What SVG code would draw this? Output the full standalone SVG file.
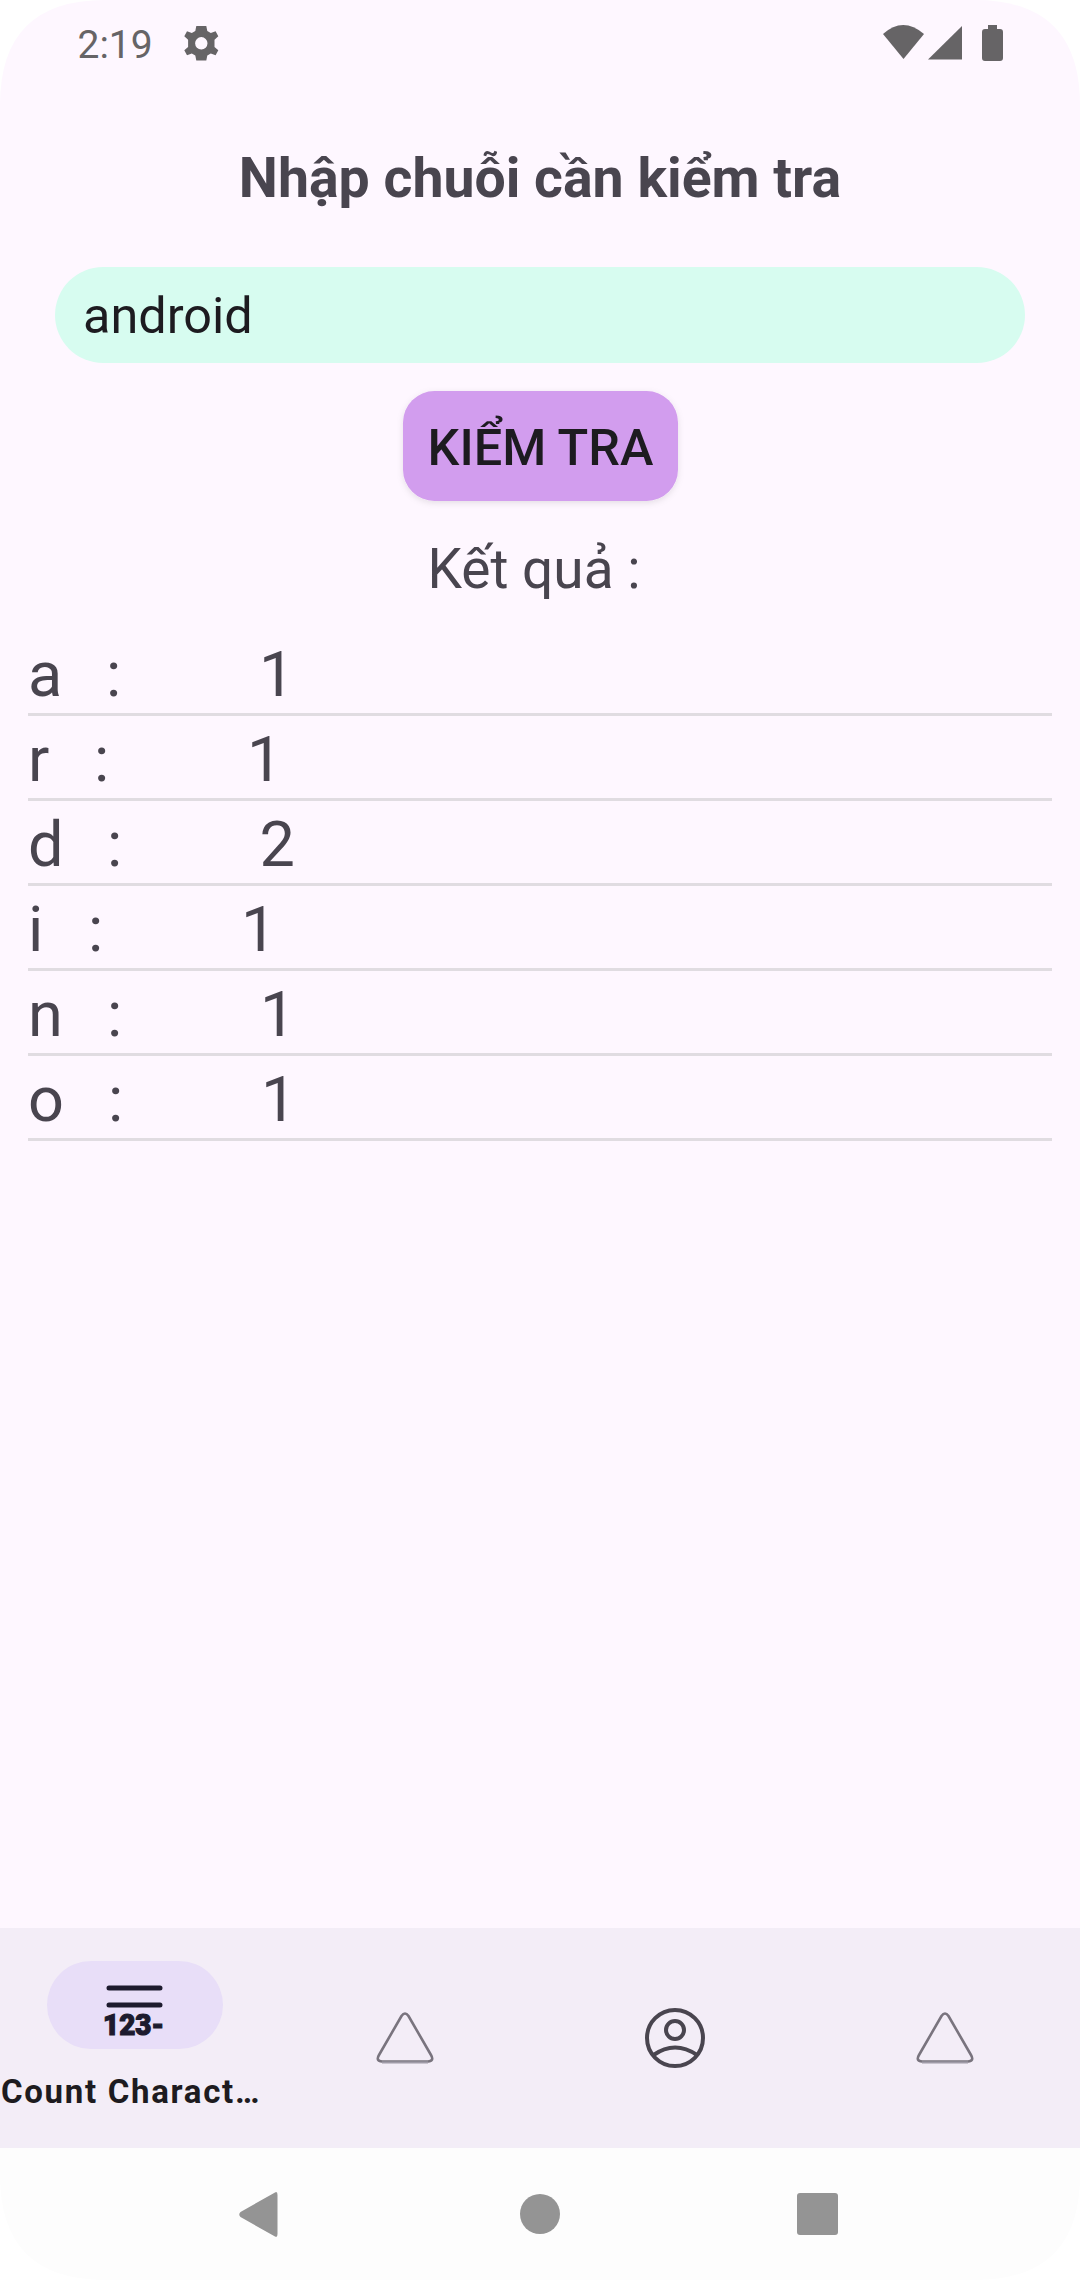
<svg xmlns="http://www.w3.org/2000/svg" width="1080" height="2280" viewBox="0 0 1080 2280">
<defs>
<style>
text{font-family:Roboto,"Noto Sans",sans-serif}
.row{font-size:63px;fill:#49454f}
.div{stroke:#e0dce1;stroke-width:3}
.tri{fill:none;stroke:#79747e;stroke-width:2.6}
.tribase{fill:none;stroke:#a09ba8;stroke-width:2}
.sys{fill:#666466}
.nav{fill:#949494}
</style>
<filter id="sh" x="-10%" y="-10%" width="120%" height="130%"><feDropShadow dx="0" dy="2" stdDeviation="3" flood-color="#000" flood-opacity="0.1"/></filter>
</defs>
<rect width="1080" height="2280" fill="#ffffff"/>
<g id="screen">
<path d="M105 0H975Q1080 0 1080 105V2148H0V105Q0 0 105 0Z" fill="#fef7ff"/>
<path d="M0 2148H1080V2175Q1080 2280 975 2280H105Q0 2280 0 2175Z" fill="#fdfdfd"/>
<rect x="0" y="1928" width="1080" height="220" fill="#f3edf7"/>
</g>
<g id="status-bar">
<text x="77.5" y="58" font-size="39" fill="#666466">2:19</text>
<g id="gear" transform="translate(201.3 43.3)">
<path class="sys" fill-rule="evenodd" d="M-5-17.3H5L6-12.3 9.5-10.3 14.3-12 17-7 13.2-3.6V3.6L17 7 14.3 12 9.5 10.3 6 12.3 5 17.3H-5L-6 12.3-9.5 10.3-14.3 12-17 7-13.2 3.6V-3.6L-17-7-14.3-12-9.5-10.3-6-12.3ZM0-6.2A6.2 6.2 0 1 0 0 6.2 6.2 6.2 0 1 0 0-6.2Z"/>
</g>
<path id="wifi" class="sys" d="M883 34Q903 16 924 34L903.5 59Z"/>
<path id="signal" class="sys" d="M928 59.5L962 26V59.5Z"/>
<path id="battery" class="sys" d="M988 25H997V29H1000Q1003 29 1003 32V58Q1003 61 1000 61H985Q982 61 982 58V32Q982 29 985 29H988Z"/>
</g>
<g id="title"><text x="540" y="196.5" text-anchor="middle" font-size="55.4" font-weight="700" fill="#49454f">Nhập chuỗi cần kiểm tra</text></g>
<g id="input">
<rect x="55" y="267" width="970" height="96" rx="48" fill="#d7fcf0"/>
<text x="83" y="333" font-size="50.4" fill="#1d1b20">android</text>
</g>
<g id="button">
<rect x="403" y="391" width="275" height="110" rx="31.5" fill="#d29dee" filter="url(#sh)"/>
<text x="540.5" y="465" text-anchor="middle" font-size="50.4" font-weight="500" fill="#1d1b20">KIỂM TRA</text>
</g>
<g id="result-label"><text x="427.5" y="588" font-size="55" fill="#49454f">Kết quả :</text></g>
<g id="rows">
<g id="row-a"><text class="row" x="28" y="696">a</text><text class="row" x="106" y="696">:</text><text class="row" x="259" y="696">1</text><line class="div" x1="28" x2="1052" y1="714.5" y2="714.5"/></g>
<g id="row-r"><text class="row" x="28" y="781">r</text><text class="row" x="94" y="781">:</text><text class="row" x="247" y="781">1</text><line class="div" x1="28" x2="1052" y1="799.5" y2="799.5"/></g>
<g id="row-d"><text class="row" x="28" y="866">d</text><text class="row" x="107" y="866">:</text><text class="row" x="259.5" y="866">2</text><line class="div" x1="28" x2="1052" y1="884.5" y2="884.5"/></g>
<g id="row-i"><text class="row" x="28" y="951">i</text><text class="row" x="88" y="951">:</text><text class="row" x="241" y="951">1</text><line class="div" x1="28" x2="1052" y1="969.5" y2="969.5"/></g>
<g id="row-n"><text class="row" x="28" y="1036">n</text><text class="row" x="107" y="1036">:</text><text class="row" x="260" y="1036">1</text><line class="div" x1="28" x2="1052" y1="1054.5" y2="1054.5"/></g>
<g id="row-o"><text class="row" x="28" y="1121">o</text><text class="row" x="108" y="1121">:</text><text class="row" x="261" y="1121">1</text><line class="div" x1="28" x2="1052" y1="1139.5" y2="1139.5"/></g>
</g>
<g id="tab-count">
<rect x="47" y="1961" width="176" height="88" rx="44" fill="#e8def8"/>
<path d="M109 1988H160M109 2005H160" stroke="#1d1b2e" stroke-width="5" stroke-linecap="round" fill="none"/>
<text x="103" y="2035" font-size="29" font-weight="900" fill="#1d1b2e" stroke="#1d1b2e" stroke-width="1.2" textLength="61" lengthAdjust="spacingAndGlyphs">123-</text>
<text x="1" y="2103" font-size="33" font-weight="700" letter-spacing="1.7" fill="#1d1b20">Count Charact…</text>
</g>
<g id="tab-2">
<path class="tri" d="M401.5 2016Q405 2011 408.5 2016L431 2055Q434.5 2061 428 2061.5H382Q375.5 2061 379 2055Z"/>
<path class="tribase" d="M382 2062.5H428"/>
</g>
<g id="tab-3" fill="none" stroke="#49454f" stroke-width="4">
<circle cx="675" cy="2038" r="28"/>
<circle cx="675" cy="2030" r="9"/>
<path d="M653.5 2055Q675 2040 697 2055"/>
</g>
<g id="tab-4">
<path class="tri" d="M941.5 2016Q945 2011 948.5 2016L971 2055Q974.5 2061 968 2061.5H922Q915.5 2061 919 2055Z"/>
<path class="tribase" d="M922 2062.5H968"/>
</g>
<g id="nav-buttons">
<path id="back" class="nav" d="M275 2192.5Q277.5 2191 277.5 2195V2234Q277.5 2238 275 2236.5L240.5 2217Q238 2214.5 240.5 2212Z"/>
<circle id="home" class="nav" cx="540" cy="2214" r="20"/>
<rect id="recents" class="nav" x="797" y="2193" width="41" height="42" rx="3"/>
</g>
</svg>
